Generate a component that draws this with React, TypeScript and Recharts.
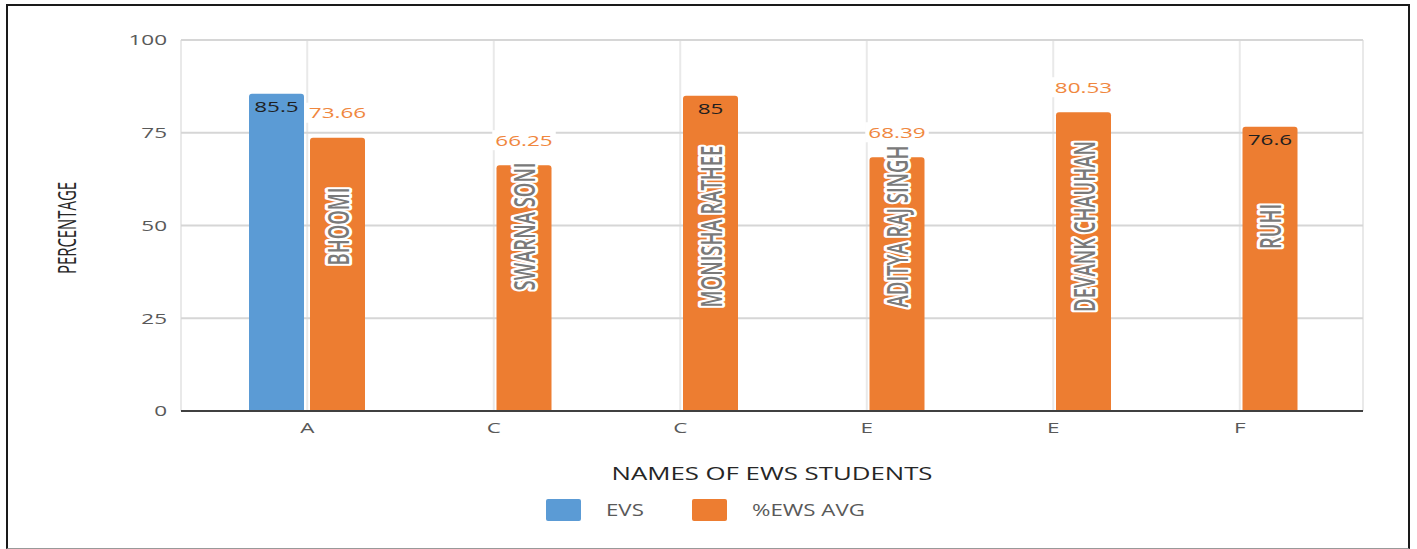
import React from 'react'
import {
  BarChart,
  Bar,
  XAxis,
  YAxis,
  CartesianGrid,
  Legend,
  LabelList,
  Label,
} from 'recharts'

// chart data
const categories = ['A', 'C', 'C', 'E', 'E', 'F']
const studentNames = [
  'BHOOMI',
  'SWARNA SONI',
  'MONISHA RATHEE',
  'ADITYA RAJ SINGH',
  'DEVANK CHAUHAN',
  'RUHI',
]
const evsScores: (number | null)[] = [85.5, null, null, null, null, null]
const ewsAvg = [73.66, 66.25, 85, 68.39, 80.53, 76.6]
const yTicks = [0, 25, 50, 75, 100]
const seriesOrder = ['EVS', '%EWS AVG']

const data = categories.map((cat, i) => ({
  cat,
  name: studentNames[i],
  evs: evsScores[i],
  avg: ewsAvg[i],
}))

// layout / style
const W = 1417
const H = 549
const PLOT_TOP = 40
const PLOT_BOTTOM = 411
const PLOT_LEFT = 181
const PLOT_RIGHT = 1363
const BLUE = '#5B9BD5'
const ORANGE = '#ED7D31'
const FONT = "'Open Sans', sans-serif"
const avgLabelInside = [false, false, true, false, false, true]

const YTick = ({ y, payload }: any) => (
  <text
    transform={`translate(${PLOT_LEFT - 14},${y}) scale(1.5,1)`}
    textAnchor="end"
    dominantBaseline="central"
    fontSize={15}
    fontFamily={FONT}
    fill="#595959"
  >
    {payload.value}
  </text>
)

const XTick = ({ x, payload }: any) => (
  <text
    transform={`translate(${x},${PLOT_BOTTOM + 17}) scale(1.5,1)`}
    textAnchor="middle"
    dominantBaseline="central"
    fontSize={15}
    fontFamily={FONT}
    fill="#595959"
  >
    {payload.value}
  </text>
)

const makeValueLabel = (color: string, inside: boolean[]) => (props: any) => {
  const { x, y, width, value, index } = props
  if (value == null) return null
  const cx = Number(x) + Number(width) / 2
  const isIn = inside[index]
  const cy = isIn ? Number(y) + 13 : Number(y) - 25
  const txt = String(value)
  const w = txt.length * 11.5 + 6
  return (
    <g>
      {!isIn && (
        <rect x={cx - w / 2} y={cy - 10} width={w} height={20} fill="#fff" />
      )}
      <text
        transform={`translate(${cx},${cy}) scale(1.5,1)`}
        textAnchor="middle"
        dominantBaseline="central"
        fontSize={15}
        fontFamily={FONT}
        fill={isIn ? '#1f1f1f' : color}
      >
        {txt}
      </text>
    </g>
  )
}

const NameLabel = (props: any) => {
  const { x, width, value } = props
  const cx = Number(x) + Number(width) / 2
  const cy = (PLOT_TOP + PLOT_BOTTOM) / 2 + 1
  return (
    <text
      transform={`translate(${cx},${cy}) scale(1.55,1) rotate(-90)`}
      textAnchor="middle"
      dominantBaseline="central"
      fontSize={18.5}
      fontWeight={600}
      fontFamily={FONT}
      fill="#7a7a7a"
      stroke="#ffffff"
      strokeWidth={4}
      strokeLinejoin="round"
      paintOrder="stroke"
    >
      {value}
    </text>
  )
}

const XTitle = () => (
  <text
    x={(PLOT_LEFT + PLOT_RIGHT) / 2}
    y={472}
    textAnchor="middle"
    dominantBaseline="central"
    fontSize={18.5}
    fontFamily={FONT}
    fill="#262626"
    textLength={321}
    lengthAdjust="spacingAndGlyphs"
  >
    NAMES OF EWS STUDENTS
  </text>
)

const YTitle = () => (
  <text
    transform="translate(66,228) scale(1.3,1) rotate(-90)"
    textAnchor="middle"
    dominantBaseline="central"
    fontSize={19}
    fontFamily={FONT}
    fill="#262626"
    textLength={92}
    lengthAdjust="spacingAndGlyphs"
  >
    PERCENTAGE
  </text>
)

const renderLegend = (props: any) => {
  const items = [...(props.payload || [])].sort(
    (a: any, b: any) => seriesOrder.indexOf(a.value) - seriesOrder.indexOf(b.value)
  )
  const xs = [546, 692]
  return (
    <svg width={W} height={30} style={{ display: 'block' }}>
      {items.map((it: any, i: number) => (
        <g key={it.value}>
          <rect x={xs[i]} y={4} width={35} height={22} rx={2} fill={it.color} />
          <text
            transform={`translate(${xs[i] + 60},15) scale(1.35,1)`}
            dominantBaseline="central"
            fontSize={16.5}
            fontFamily={FONT}
            fill="#595959"
          >
            {it.value}
          </text>
        </g>
      ))}
    </svg>
  )
}

export default function App() {
  return (
    <div
      style={{
        position: 'absolute',
        left: 0,
        top: 0,
        width: W,
        height: H,
        background: '#fff',
      }}
    >
      <BarChart
        width={W}
        height={H}
        data={data}
        margin={{ top: PLOT_TOP, right: W - PLOT_RIGHT, left: PLOT_LEFT - 60, bottom: H - PLOT_BOTTOM - 30 }}
        barGap={6}
        barSize={55}
      >
        <CartesianGrid horizontal={false} stroke="#e9e9e9" strokeWidth={2} />
        <CartesianGrid vertical={false} stroke="#d6d6d6" strokeWidth={2} />
        <XAxis
          dataKey="cat"
          padding={{ left: 33, right: 30 }}
          axisLine={{ stroke: '#404040', strokeWidth: 2 }}
          tickLine={false}
          tick={<XTick />}
          height={30}
          interval={0}
        >
          <Label content={<XTitle />} />
        </XAxis>
        <YAxis
          domain={[0, 100]}
          ticks={yTicks}
          axisLine={false}
          tickLine={false}
          tick={<YTick />}
          width={60}
        >
          <Label content={<YTitle />} />
        </YAxis>
        <Legend
          layout="horizontal"
          verticalAlign="middle"
          align="center"
          itemSorter={null}
          content={renderLegend}
          wrapperStyle={{ left: 0, top: 495, width: W, height: 30 }}
        />
        <Bar
          dataKey="evs"
          name="EVS"
          fill={BLUE}
          radius={[3, 3, 0, 0]}
          isAnimationActive={false}
        >
          <LabelList
            dataKey="evs"
            content={makeValueLabel('#1f1f1f', [true, true, true, true, true, true])}
          />
        </Bar>
        <Bar
          dataKey="avg"
          name="%EWS AVG"
          fill={ORANGE}
          radius={[3, 3, 0, 0]}
          isAnimationActive={false}
        >
          <LabelList dataKey="name" content={NameLabel} />
          <LabelList dataKey="avg" content={makeValueLabel('#F0873E', avgLabelInside)} />
        </Bar>
      </BarChart>
      <div
        style={{
          position: 'absolute',
          left: 6,
          top: 4,
          width: 1404,
          height: 545,
          boxSizing: 'border-box',
          borderLeft: '2px solid #1a1a1a',
          borderTop: '2px solid #1a1a1a',
          borderRight: '2px solid #1a1a1a',
          borderBottom: '1px solid #999',
          pointerEvents: 'none',
        }}
      />
    </div>
  )
}
